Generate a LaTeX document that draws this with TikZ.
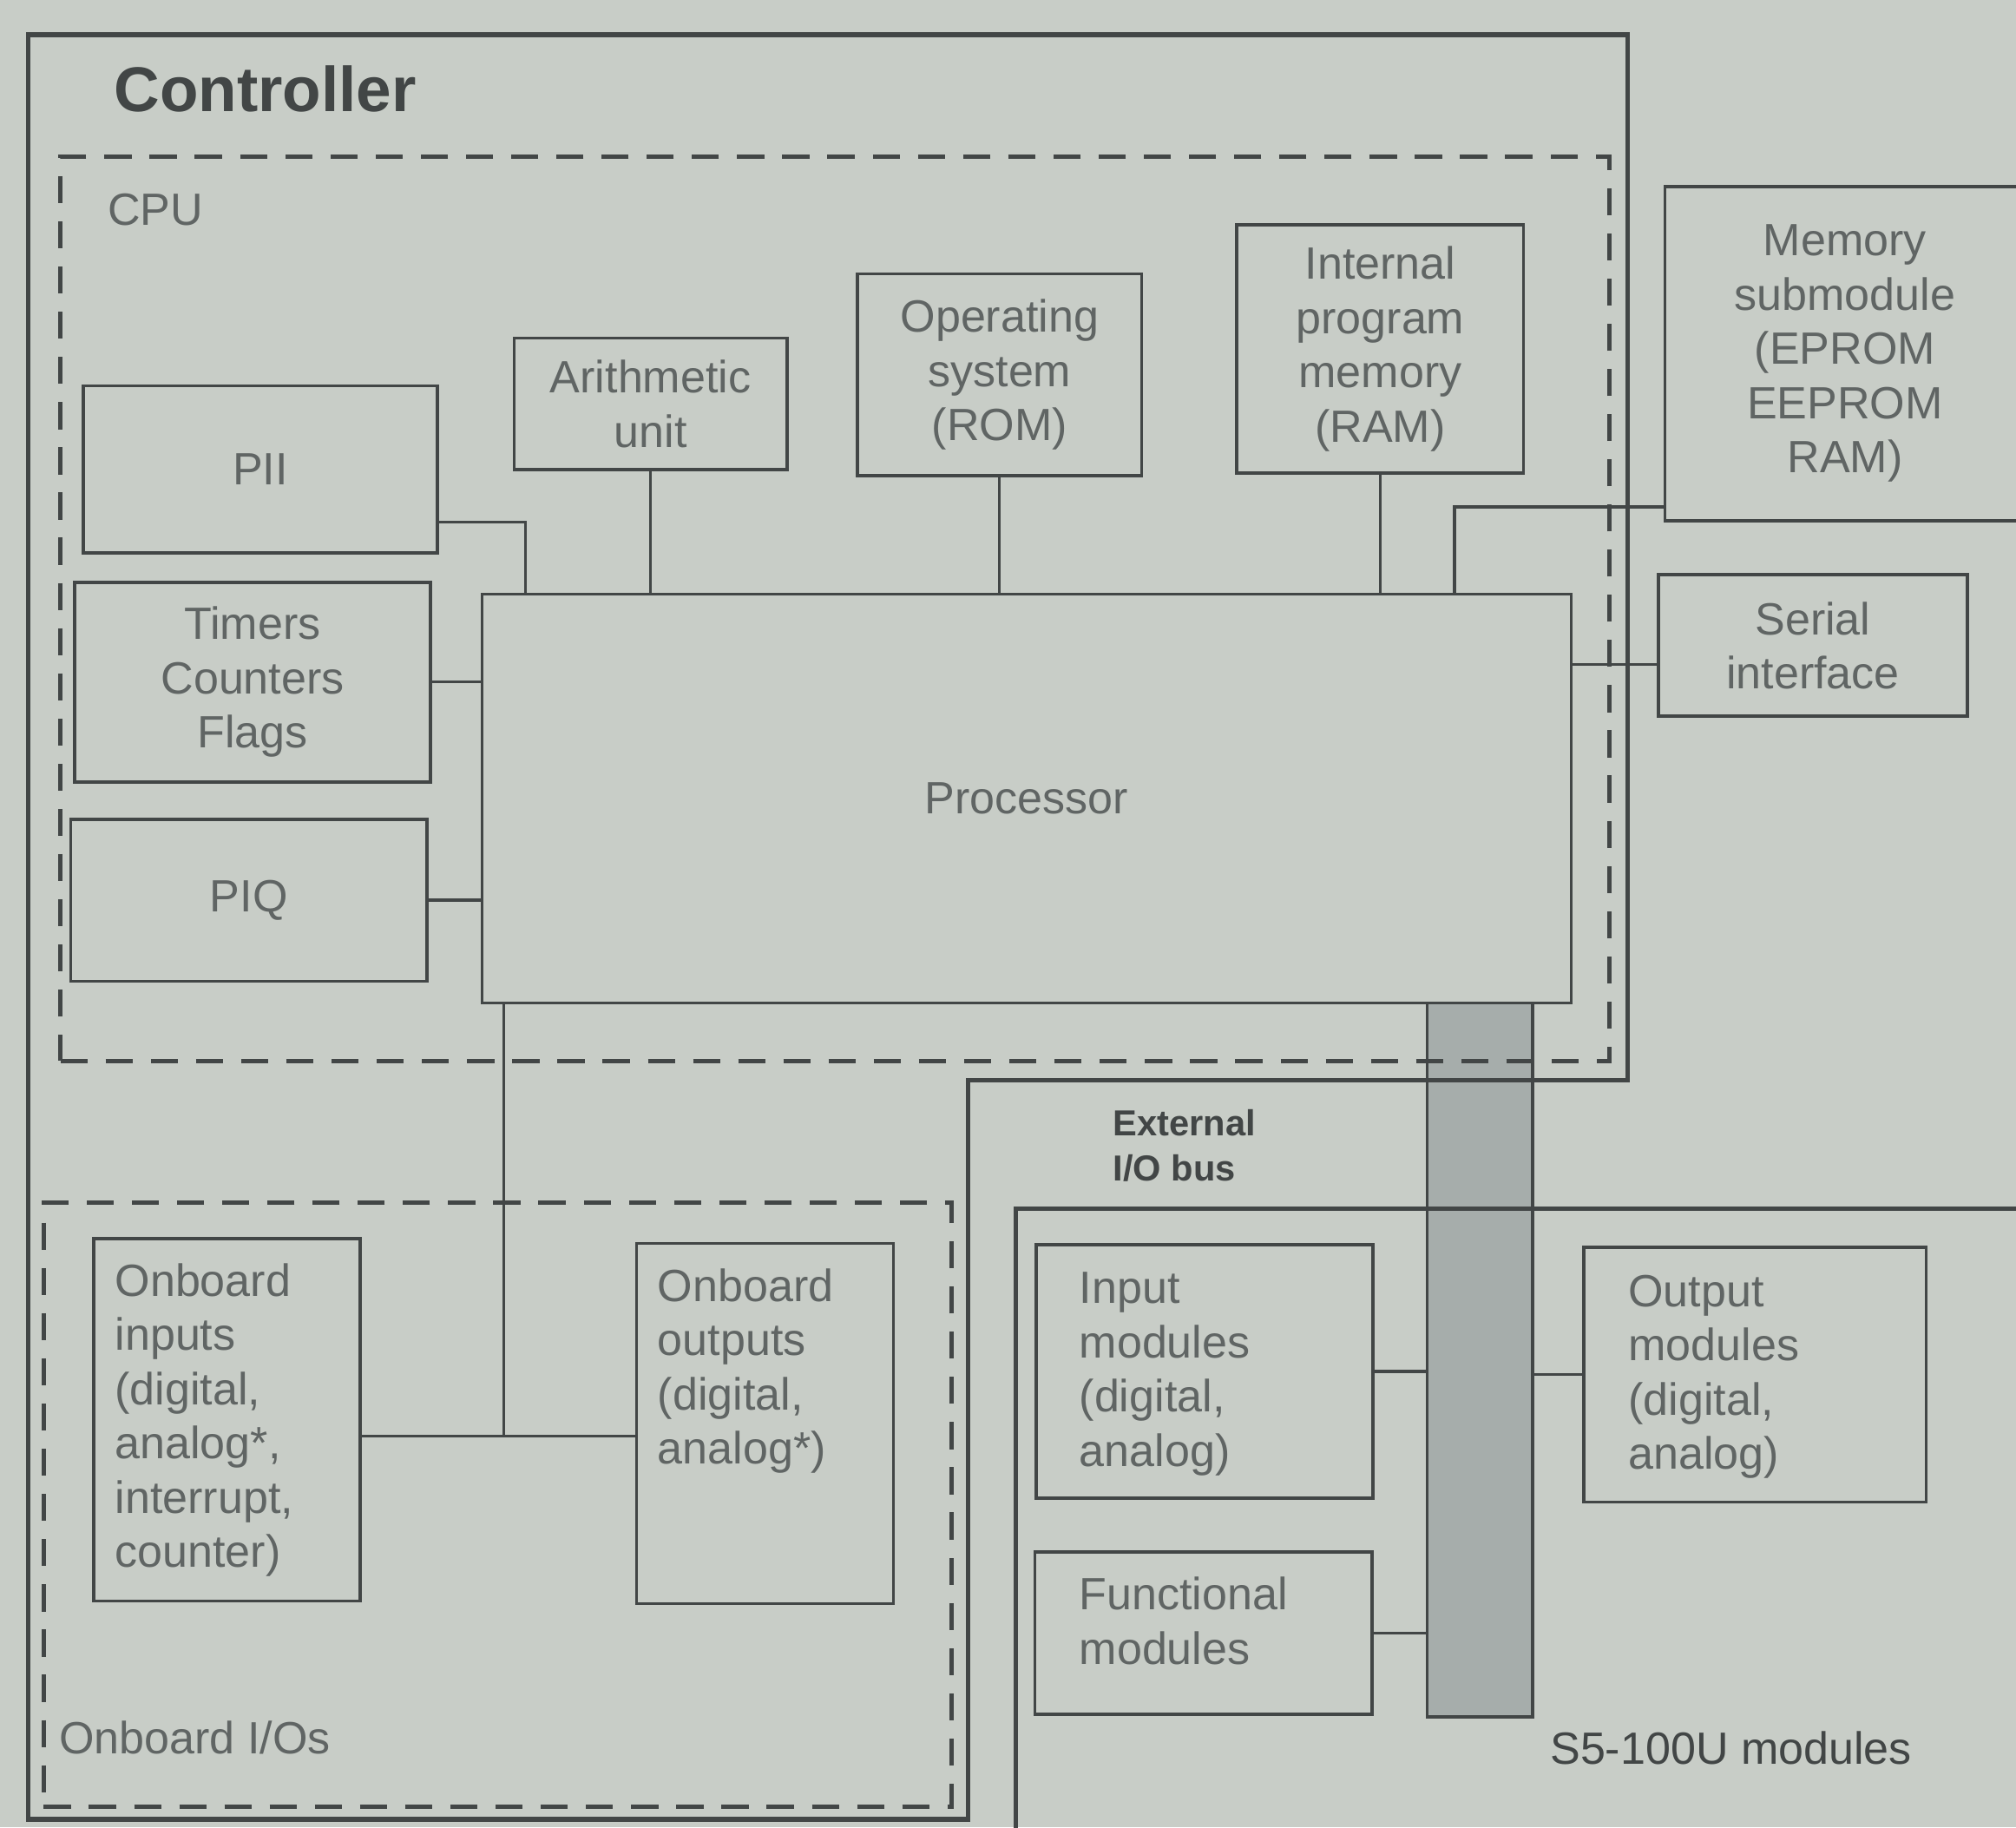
\documentclass[tikz,border=0pt]{standalone}
\usepackage{fontspec}
\setmainfont{Liberation Sans}
\usetikzlibrary{positioning}
\definecolor{paper}{RGB}{200,205,199}
\definecolor{ink}{RGB}{66,70,70}
\definecolor{inkfaint}{RGB}{96,101,100}
\definecolor{busfill}{RGB}{166,173,171}

\begin{document}
\begin{tikzpicture}[
      font = \fontsize{10}{12}\selectfont,
      unit/.style={
        draw = ink,
        line width = 0.7pt,
        text = inkfaint,
        align = center,
        inner sep = 0pt,
      },
      txt/.style={text = inkfaint, align = left, inner sep = 0pt},
      wire/.style={draw = ink, line width = 0.6pt},
      frame/.style={draw = ink, line width = 1.1pt},
      zone/.style={
        draw = ink,
        line width = 1pt,
        dash pattern = on 6pt off 4pt,
        inner sep = 0pt,
      },
    ]
    \useasboundingbox (0,0) rectangle (15.68,-14.21);
    \fill[paper] (0,0) rectangle (15.68,-14.21);

    \node[draw = ink, fill = busfill, line width = 0.7pt, inner sep = 0pt,
      minimum width = 0.82cm, minimum height = 5.55cm] (bus) at (11.51,-10.575) {};

    \draw[frame] (0.22,-0.27) -- (12.66,-0.27) -- (12.66,-8.40) -- (7.53,-8.40)
      -- (7.53,-14.15) -- (0.22,-14.15) -- cycle;
    \node[anchor = west, inner sep = 0pt, text = ink,
      font = \fontsize{14}{16}\selectfont\bfseries] (ctrl) at (0.88,-0.69) {Controller};

    \node[zone, minimum width = 12.05cm, minimum height = 7.03cm] (cpu) at (6.495,-4.735) {};
    \node[txt, below right = 0.30cm and 0.38cm of cpu.north west] (cpulbl) {CPU};

    \node[unit, minimum width = 8.47cm, minimum height = 3.18cm] (proc) at (7.985,-6.21) {Processor};
    \node[unit, minimum width = 2.75cm, minimum height = 1.30cm] (pii) at (2.025,-3.65) {PII};
    \node[unit, minimum width = 2.77cm, minimum height = 1.55cm] (timers) at (1.965,-5.305)
      {Timers\\Counters\\Flags};
    \node[unit, minimum width = 2.77cm, minimum height = 1.26cm] (piq) at (1.935,-7.00) {PIQ};
    \node[unit, minimum width = 2.12cm, minimum height = 1.02cm] (arith) at (5.06,-3.14)
      {Arithmetic\\unit};
    \node[unit, minimum width = 2.21cm, minimum height = 1.57cm] (opsys) at (7.775,-2.915)
      {Operating\\system\\(ROM)};
    \node[unit, minimum width = 2.23cm, minimum height = 1.93cm] (intmem) at (10.735,-2.715)
      {Internal\\program\\memory\\(RAM)};
    \node[unit, minimum width = 2.80cm, minimum height = 2.60cm] (memsub) at (14.35,-2.75)
      {Memory\\submodule\\(EPROM\\EEPROM\\RAM)};
    \node[unit, minimum width = 2.40cm, minimum height = 1.10cm] (serial) at (14.10,-5.02)
      {Serial\\interface};

    \node[zone, minimum width = 7.06cm, minimum height = 4.70cm] (iozone) at (3.87,-11.70) {};
    \node[txt, above right = 0.42cm and 0.13cm of iozone.south west] (iolbl) {Onboard I/Os};
    \node[unit, minimum width = 2.07cm, minimum height = 2.82cm] (oin) at (1.765,-11.04) {};
    \node[txt, below right = 0.20cm and 0.17cm of oin.north west] (ointxt)
      {Onboard\\inputs\\(digital,\\analog*,\\interrupt,\\counter)};
    \node[unit, minimum width = 2.00cm, minimum height = 2.80cm] (oout) at (5.95,-11.07) {};
    \node[txt, below right = 0.20cm and 0.17cm of oout.north west] (oouttxt)
      {Onboard\\outputs\\(digital,\\analog*)};

    \node[draw = ink, line width = 1pt, minimum width = 8.20cm, minimum height = 5.20cm]
      (s5) at (12.00,-12.00) {};
    \node[anchor = base west, inner sep = 0pt, text = ink] (s5lbl) at (12.05,-13.72) {S5-100U modules};
    \node[anchor = north west, inner sep = 0pt, text = ink, align = left,
      font = \fontsize{8}{10}\selectfont\bfseries] (buslbl) at (8.65,-8.62) {External\\I/O bus};

    \node[unit, minimum width = 2.62cm, minimum height = 1.97cm] (inmod) at (9.37,-10.665) {};
    \node[txt, below right = 0.22cm and 0.34cm of inmod.north west] (inmodtxt)
      {Input\\modules\\(digital,\\analog)};
    \node[unit, minimum width = 2.66cm, minimum height = 1.98cm] (outmod) at (13.65,-10.69) {};
    \node[txt, below right = 0.22cm and 0.35cm of outmod.north west] (outmodtxt)
      {Output\\modules\\(digital,\\analog)};
    \node[unit, minimum width = 2.62cm, minimum height = 1.26cm] (funmod) at (9.36,-12.70) {};
    \node[txt, below right = 0.20cm and 0.35cm of funmod.north west] (funmodtxt)
      {Functional\\modules};

    \coordinate (serin) at ([yshift=-0.15cm]serial.west);
    \coordinate (iojoin) at (3.92,-11.17);
    \draw[wire] ([yshift=0.25cm]pii.south east) -| ([xshift=0.35cm]proc.north west);
    \draw[wire] (arith.south) -- (arith.south |- proc.north);
    \draw[wire] (opsys.south) -- (opsys.south |- proc.north);
    \draw[wire] (intmem.south) -- (intmem.south |- proc.north);
    \draw[wire] ([yshift=0.12cm]memsub.south west) -| ([xshift=-0.92cm]proc.north east);
    \draw[wire] (serin) -- (serin -| proc.east);
    \draw[wire] (timers.east) -- (timers.east -| proc.west);
    \draw[wire] (piq.east) -- (piq.east -| proc.west);
    \draw[wire] (proc.south -| iojoin) -- (iojoin);
    \draw[wire] (oin.east |- iojoin) -- (oout.west |- iojoin);
    \draw[wire] (inmod.east) -- (inmod.east -| bus.west);
    \draw[wire] (funmod.east) -- (funmod.east -| bus.west);
    \draw[wire] (outmod.west) -- (outmod.west -| bus.east);
  \end{tikzpicture}
\end{document}
